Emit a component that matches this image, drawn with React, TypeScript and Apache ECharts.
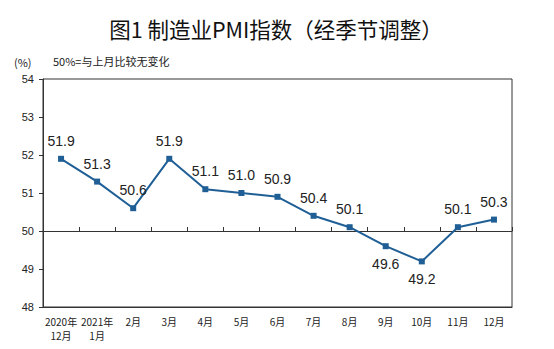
import React, { useEffect, useRef } from "react";
import * as echarts from "echarts";

const categories = [
  "2020年\n12月", "2021年\n1月", "2月", "3月", "4月", "5月", "6月",
  "7月", "8月", "9月", "10月", "11月", "12月",
];
const pmiValues = [51.9, 51.3, 50.6, 51.9, 51.1, 51.0, 50.9, 50.4, 50.1, 49.6, 49.2, 50.1, 50.3];
const belowLabelIdx = [9, 10];
const yMin = 48;
const yMax = 54;
const yInterval = 1;
const baseLine = 50;

const titleText = "图1 制造业PMI指数（经季节调整）";
const unitText = "(%)";
const noteText = "50%=与上月比较无变化";

export default function App() {
  const ref = useRef<HTMLDivElement>(null);
  useEffect(() => {
    document.body.style.margin = "0";
    if (!ref.current) return;
    const chart = echarts.init(ref.current, null, { renderer: "svg" });
    const gridTop = 79;
    const gridBottom = 42;
    const plotH = 349 - gridTop - gridBottom;
    const baseOffset = -((baseLine - yMin) / (yMax - yMin)) * plotH;
    const cjk = "'Noto Sans CJK SC', 'Noto Sans', sans-serif";
    chart.setOption({
      animation: false,
      backgroundColor: "#ffffff",
      title: {
        text: titleText,
        left: 271,
        textAlign: "center",
        top: 13,
        textStyle: { fontFamily: cjk, fontSize: 21.5, fontWeight: "normal", color: "#111" },
      },
      graphic: [
        { type: "text", left: 14, top: 56, style: { text: unitText, fontFamily: cjk, fontSize: 11, fill: "#222" } },
        { type: "text", left: 53, top: 55, style: { text: noteText, fontFamily: cjk, fontSize: 11, fill: "#222" } },
      ],
      grid: {
        left: 43,
        right: 42,
        top: gridTop,
        bottom: gridBottom,
        show: true,
        borderColor: "#333",
        borderWidth: 1,
        backgroundColor: "transparent",
      },
      xAxis: [
        {
          type: "category",
          data: categories,
          position: "bottom",
          boundaryGap: true,
          axisLine: { show: true, lineStyle: { color: "#333", width: 1 } },
          axisTick: { show: false },
          axisLabel: {
            interval: 0,
            color: "#222",
            fontFamily: cjk,
            fontSize: 10,
            lineHeight: 14,
            margin: 7,
          },
        },
        {
          type: "category",
          data: categories,
          position: "bottom",
          offset: baseOffset,
          boundaryGap: true,
          axisLine: { show: true, lineStyle: { color: "#333", width: 1 } },
          axisTick: { show: true, inside: true, length: 4, interval: 0, lineStyle: { color: "#333" } },
          axisLabel: { show: false },
        },
      ],
      yAxis: {
        type: "value",
        min: yMin,
        max: yMax,
        interval: yInterval,
        axisLine: { show: true, lineStyle: { color: "#333", width: 1 } },
        axisTick: { show: true, length: 4, lineStyle: { color: "#333" } },
        splitLine: { show: false },
        axisLabel: { color: "#222", fontFamily: "'Liberation Sans', Arial, sans-serif", fontSize: 11, margin: 9 },
      },
      series: [
        {
          type: "line",
          xAxisIndex: 0,
          data: pmiValues.map((v, i) => ({
            value: v,
            label: { position: belowLabelIdx.includes(i) ? "bottom" : "top" },
          })),
          symbol: "rect",
          symbolSize: 6,
          lineStyle: { color: "#1F5F96", width: 2 },
          itemStyle: { color: "#1F5F96" },
          label: {
            show: true,
            distance: 8,
            formatter: (p: any) => Number(p.value).toFixed(1),
            fontFamily: "'Liberation Sans', Arial, sans-serif",
            fontSize: 14,
            color: "#222",
          },
        },
      ],
    });
    return () => chart.dispose();
  }, []);
  return <div ref={ref} style={{ width: 554, height: 349 }} />;
}
